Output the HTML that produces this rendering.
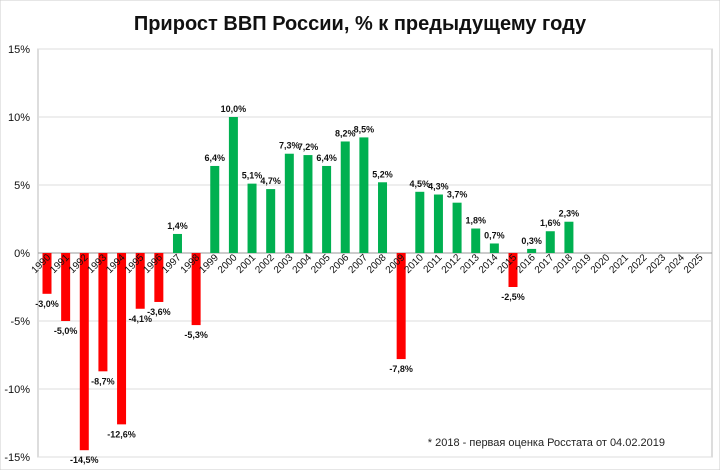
<!DOCTYPE html>
<html><head><meta charset="utf-8"><style>
body{margin:0;background:#fff;font-family:"Liberation Sans","Noto Sans CJK SC",sans-serif}
svg text{font-family:"Liberation Sans","Noto Sans CJK SC",sans-serif}
</style></head><body>
<svg id="c" width="720" height="470">
<rect x="0" y="0" width="720" height="470" fill="#fff" stroke="#ccc"/>
<text x="360" y="30" text-anchor="middle" font-size="20" font-weight="bold" fill="#111">Прирост ВВП России, % к предыдущему году</text>
<g id="grid"></g><g id="bars"></g><g id="labels"></g>
<text x="665" y="446" text-anchor="end" font-size="11" fill="#222">* 2018 - первая оценка Росстата от 04.02.2019</text>
</svg>
<script>
const years=[1990,1991,1992,1993,1994,1995,1996,1997,1998,1999,2000,2001,2002,2003,2004,2005,2006,2007,2008,2009,2010,2011,2012,2013,2014,2015,2016,2017,2018,2019,2020,2021,2022,2023,2024,2025];
const values=[-3.0,-5.0,-14.5,-8.7,-12.6,-4.1,-3.6,1.4,-5.3,6.4,10.0,5.1,4.7,7.3,7.2,6.4,8.2,8.5,5.2,-7.8,4.5,4.3,3.7,1.8,0.7,-2.5,0.3,1.6,2.3,null,null,null,null,null,null,null];
const yTicks=[15,10,5,0,-5,-10,-15];
const NS='http://www.w3.org/2000/svg';
const y=v=>253-v*13.6;
const x=i=>47+i*18.64;
function mk(t,a,p){const e=document.createElementNS(NS,t);for(const k in a)e.setAttribute(k,a[k]);p.appendChild(e);return e;}
const g=document.getElementById('grid'),b=document.getElementById('bars'),l=document.getElementById('labels');
mk('rect',{x:38,y:49,width:674,height:408,fill:'none',stroke:'#bbb'},g);
yTicks.forEach(t=>{
 const ln=mk('line',{x1:38,x2:712,y1:y(t),y2:y(t),stroke:t===0?'#999':'#ddd'},g);
 
 
 const tx=mk('text',{x:30,y:y(t)+4,'text-anchor':'end','font-size':11,fill:'#111'},g);
 tx.textContent=t+'%';
 
 
});
years.forEach((yr,i)=>{
 const v=values[i];
 const cx=x(i);
 const tl=mk('text',{x:cx+4,y:258,'text-anchor':'end','font-size':10,fill:'#111',transform:`rotate(-45 ${cx+4} 258)`},l);
 tl.textContent=yr;
 
 
 if(v===null)return;
 const r=mk('rect',{x:cx-4.5,y:Math.min(y(v),y(0)),width:9,height:Math.abs(y(v)-y(0)),fill:v<0?'#ff0000':'#00b050'},b);
 
 
 const vl=mk('text',{x:cx,y:v<0?y(v)+13:y(v)-5,'text-anchor':'middle','font-size':9,'font-weight':'bold',fill:'#111'},l);
 vl.textContent=v.toFixed(1).replace('.',',')+'%';
 
 
});
</script>
</body></html>
